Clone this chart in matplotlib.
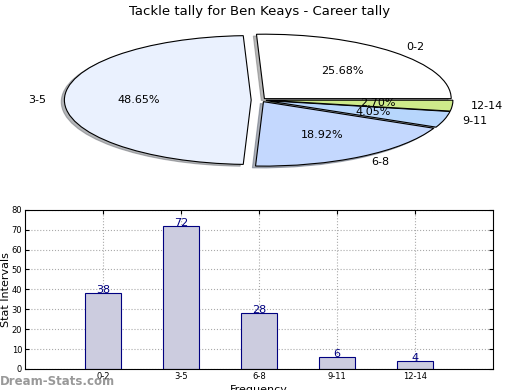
import numpy as np
import matplotlib
matplotlib.use('Agg')
import matplotlib.pyplot as plt

labels = ['0-2', '3-5', '6-8', '9-11', '12-14']
counts = [38, 72, 28, 6, 4]
pie_colors = ['#ffffff', '#eaf1fe', '#c4d8fe', '#b7d6fc', '#cdea8a']
explode = [0.03, 0.05, 0.03, 0.03, 0.03]

fig = plt.figure(figsize=(5.2, 3.9), dpi=100)

# pie on top (stretched, not round)
ax1 = fig.add_axes([0.052, 0.537, 0.898, 0.413])
wedges, texts, autotexts = ax1.pie(counts, labels=labels, colors=pie_colors,
                                   explode=explode, autopct='%.2f%%',
                                   shadow={'ox': -0.012, 'oy': -0.02, 'shade': 0.55},
                                   startangle=0, counterclock=True,
                                   wedgeprops=dict(edgecolor='black', linewidth=0.8),
                                   textprops=dict(fontsize=8))
ax1.set_aspect('auto')
ax1.set_xlim(-1.25, 1.25)
ax1.set_ylim(-1.25, 1.25)
fig.text(0.5, 0.955, 'Tackle tally for Ben Keays - Career tally', ha='center',
         va='bottom', fontsize=9.5)

# bar chart below
ax2 = fig.add_axes([0.048, 0.054, 0.9, 0.408])
x = np.arange(len(labels))
ax2.bar(x, counts, width=0.45, color='#ccccdf', edgecolor='#000080', linewidth=0.8,
        zorder=2)
for xi, c in zip(x, counts):
    ax2.text(xi, c - 1, str(c), ha='center', va='bottom', color='#000080', fontsize=8)
ax2.set_xlim(-1, 5)
ax2.set_ylim(0, 80)
ax2.set_yticks(range(0, 81, 10))
ax2.set_xticks(x)
ax2.set_xticklabels(labels)
ax2.tick_params(labelsize=6, direction='in', top=True, right=True, length=3, pad=2)
ax2.grid(True, linestyle=':', color='#aaaaaa', linewidth=0.8, zorder=0)
ax2.set_ylabel('Stat Intervals', fontsize=8)
ax2.yaxis.set_label_coords(-0.03, 0.5)
ax2.set_xlabel('Frequency', fontsize=8, labelpad=3)

fig.text(0.0, 0.005, 'Dream-Stats.com', fontsize=8.5, color='#999999',
         fontweight='bold', ha='left', va='bottom')

fig.savefig('out.png', dpi=100)
